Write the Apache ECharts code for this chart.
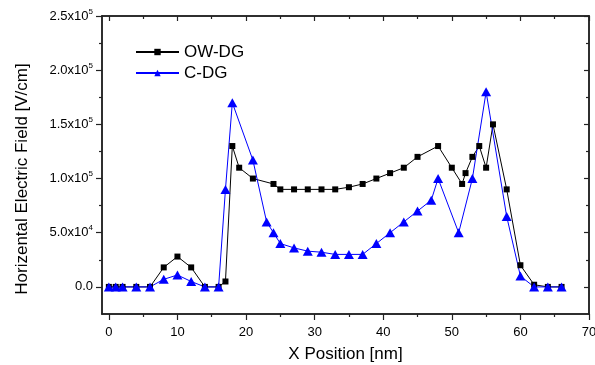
<!DOCTYPE html>
<html>
<head>
<meta charset="utf-8">
<script src="https://cdn.jsdelivr.net/npm/echarts@6/dist/echarts.min.js"></script>
<style>
  html, body { margin: 0; padding: 0; background: #fff; }
  #chart { width: 595px; height: 365px; }
</style>
</head>
<body>
<div id="chart"></div>
<script>
// OW-DG: x position [nm] and horizontal field [V/cm]
var owX = [0, 1, 2, 4, 6, 8, 10, 12, 14, 16, 17, 18, 19, 21, 24, 25, 27, 29, 31, 33, 35, 37, 39, 41, 43, 45, 48, 50, 51.5, 52, 53, 54, 55, 56, 58, 60, 62, 64, 66];
var owY = [0, 0, 0, 0, 0, 18000, 28000, 18000, 0, 0, 5000, 130000, 110000, 100000, 95000, 90000, 90000, 90000, 90000, 90000, 92000, 95000, 100000, 105000, 110000, 120000, 130000, 110000, 95000, 105000, 120000, 130000, 110000, 150000, 90000, 20000, 2000, 0, 0];

// C-DG: x position [nm] and horizontal field [V/cm]
var cX = [0, 1, 2, 4, 6, 8, 10, 12, 14, 16, 17, 18, 21, 23, 24, 25, 27, 29, 31, 33, 35, 37, 39, 41, 43, 45, 47, 48, 51, 53, 55, 58, 60, 62, 64, 66];
var cY = [0, 0, 0, 0, 0, 7000, 11000, 5000, 0, 0, 90000, 170000, 117000, 60000, 50000, 40000, 36000, 33000, 32000, 30000, 30000, 30000, 40000, 50000, 60000, 70000, 80000, 100000, 50000, 100000, 180000, 65000, 10000, 0, 0, 0];

// Tick positions
var xMajor = [0, 10, 20, 30, 40, 50, 60, 70];
var xMinor = [5, 15, 25, 35, 45, 55, 65];
var yMajor = [0, 50000, 100000, 150000, 200000, 250000];
var yMinor = [25000, 75000, 125000, 175000, 225000];

function pairs(xs, ys) {
  return xs.map(function (x, i) { return [x, ys[i]]; });
}

function yLabel(v) {
  if (v === 0) return '{b|0.0}';
  var e = Math.floor(Math.log10(v) + 1e-9);
  var m = v / Math.pow(10, e);
  return '{b|' + m.toFixed(1) + 'x10}{s|' + e + '}';
}

var FONT = 'Liberation Sans, Arial, sans-serif';
var AX = '#222';

function xAxisDef(pos, ticks, len, inside, labels) {
  return {
    type: 'value', position: pos, min: -1, max: 70,
    axisLine: { show: true, onZero: false, lineStyle: { color: AX, width: 1.5 } },
    axisTick: { show: true, inside: inside, length: len, customValues: ticks, lineStyle: { color: AX, width: 1.2 } },
    axisLabel: labels ? { show: true, customValues: ticks, margin: 12, color: '#000', fontSize: 13, fontFamily: FONT } : { show: false },
    splitLine: { show: false },
    name: labels ? 'X Position [nm]' : '',
    nameLocation: 'middle', nameGap: 32,
    nameTextStyle: { fontSize: 17, color: '#000', fontFamily: FONT }
  };
}

function yAxisDef(pos, ticks, len, inside, labels) {
  return {
    type: 'value', position: pos, min: -25000, max: 250000,
    axisLine: { show: true, onZero: false, lineStyle: { color: AX, width: 1.5 } },
    axisTick: { show: true, inside: inside, length: len, customValues: ticks, lineStyle: { color: AX, width: 1.2 } },
    axisLabel: labels ? {
      show: true, customValues: ticks, margin: 9, formatter: yLabel,
      rich: {
        b: { fontSize: 13, color: '#000', fontFamily: FONT, lineHeight: 16 },
        s: { fontSize: 8, color: '#000', fontFamily: FONT, lineHeight: 16, padding: [0, 0, 9, 0] }
      }
    } : { show: false },
    splitLine: { show: false },
    name: labels ? 'Horizental Electric Field [V/cm]' : '',
    nameLocation: 'middle', nameGap: 71,
    nameTextStyle: { fontSize: 17, color: '#000', fontFamily: FONT, padding: [0, 28, 0, 0] }
  };
}

var chart = echarts.init(document.getElementById('chart'), null, { renderer: 'canvas' });
chart.setOption({
  animation: false,
  backgroundColor: '#fff',
  grid: { left: 102, right: 6, top: 16, bottom: 51, outerBoundsMode: 'none', containLabel: false },
  legend: {
    left: 130, top: 38, orient: 'vertical',
    itemWidth: 43, itemHeight: 8, itemGap: 3,
    textStyle: { fontSize: 17, color: '#000', fontFamily: FONT, lineHeight: 18 },
    data: ['OW-DG', 'C-DG']
  },
  xAxis: [
    xAxisDef('bottom', xMajor, 6, false, true),
    xAxisDef('bottom', xMinor, 3, false, false),
    xAxisDef('top', xMajor, 5, true, false),
    xAxisDef('top', xMinor, 3, true, false)
  ],
  yAxis: [
    yAxisDef('left', yMajor, 6, false, true),
    yAxisDef('left', yMinor, 3, false, false),
    yAxisDef('right', yMajor, 5, true, false),
    yAxisDef('right', yMinor, 3, true, false)
  ],
  series: [
    {
      name: 'OW-DG', type: 'line', xAxisIndex: 0, yAxisIndex: 0,
      data: pairs(owX, owY),
      symbol: 'rect', symbolSize: 6,
      lineStyle: { color: '#000', width: 1 },
      itemStyle: { color: '#000' }
    },
    {
      name: 'C-DG', type: 'line', xAxisIndex: 0, yAxisIndex: 0,
      data: pairs(cX, cY),
      symbol: 'triangle', symbolSize: [10, 9],
      lineStyle: { color: '#0000ff', width: 1 },
      itemStyle: { color: '#0000ff' }
    }
  ]
});
</script>
</body>
</html>
